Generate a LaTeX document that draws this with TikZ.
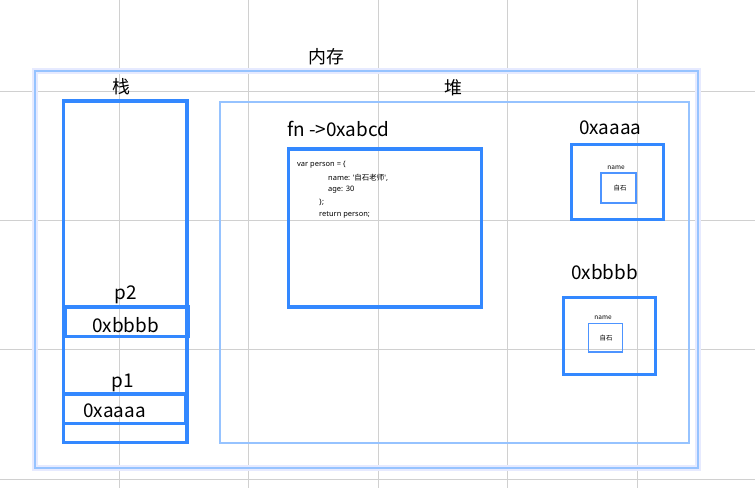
\documentclass[tikz,border=0pt]{standalone}
\usepackage{fontspec}
\setmainfont{Noto Sans CJK SC}
\newfontfamily\latinf{Noto Sans}
\definecolor{gridgray}{RGB}{208,208,208}
\definecolor{strongblue}{RGB}{51,136,255}
\definecolor{lightblue}{RGB}{150,195,255}
\definecolor{halo}{RGB}{230,234,255}
\definecolor{innerblue}{RGB}{77,148,255}
\tikzset{
  thickbox/.style={draw=strongblue,line width=3.5bp,inner sep=0pt},
  lightbox/.style={draw=lightblue,line width=2bp,inner sep=0pt},
  smallbox/.style={draw=innerblue,line width=1.5bp,inner sep=0pt},
  biglabel/.style={font=\fontsize{19}{21}\selectfont,inner sep=0pt},
  cjklabel/.style={font=\fontsize{18}{20}\selectfont,inner sep=0pt},
  codeline/.style={font=\fontsize{7.5}{9}\selectfont,inner sep=0pt,anchor=west},
  tinylabel/.style={font=\fontsize{6.5}{8}\selectfont,inner sep=0pt},
}
\begin{document}
\begin{tikzpicture}[x=1bp,y=-1bp]
\useasboundingbox (0,0) rectangle (755,488);
\fill[white] (0,0) rectangle (755,488);
% grid
\foreach \gx in {119,248,378,507,637} \draw[gridgray,line width=0.8bp] (\gx,0) -- (\gx,488);
\foreach \gy in {91,220,349,479} \draw[gridgray,line width=0.8bp] (0,\gy) -- (755,\gy);
% memory outer box
\draw[halo,line width=6bp] (35,71.5) rectangle (698,467.5);
\node[lightbox,minimum width=663bp,minimum height=396bp] (mem) at (366.5,269.5) {};
\node[cjklabel] (memlabel) at (326,57) {内存};
% stack
\node[thickbox,minimum width=123.5bp,minimum height=341.5bp] (stack) at (125.25,271.75) {};
\node[cjklabel] (stacklabel) at (121,87) {栈};
\node[thickbox,minimum width=123bp,minimum height=29.5bp] (cellb) at (127,321.75) {};
\node[thickbox,minimum width=122.5bp,minimum height=29.5bp] (cella) at (124.75,408.75) {};
\node[biglabel,anchor=base] (p2) at (126,300) {p2};
\node[biglabel,anchor=base] (vb) at (125.5,332) {0xbbbb};
\node[biglabel,anchor=base] (p1) at (123,387) {p1};
\node[biglabel,anchor=base] (va) at (114.5,417) {0xaaaa};
% heap
\node[lightbox,minimum width=468.5bp,minimum height=341bp] (heap) at (454.25,272.5) {};
\node[cjklabel] (heaplabel) at (453,88) {堆};
% function box
\node[biglabel,anchor=base west] (fnlabel) at (287,137) {fn ->0xabcd};
\node[thickbox,minimum width=193bp,minimum height=158bp] (fnbox) at (385,228) {};
\node[codeline] (c1) at (297,165) {\latinf var person = \{};
\node[codeline] (c2) at (328,177.5) {{\latinf name: '}自石老师{\latinf ',}};
\node[codeline] (c3) at (328,190) {\latinf age: 30};
\node[codeline] (c4) at (319,202.5) {\latinf \};};
\node[codeline] (c5) at (319,215) {\latinf return person;};
% object a
\node[biglabel,anchor=base west] (alabel) at (579,135) {0xaaaa};
\node[thickbox,minimum width=92bp,minimum height=75bp] (objA) at (617.5,182) {};
\node[smallbox,minimum width=35bp,minimum height=30bp] (innerA) at (618.5,188) {};
\node[tinylabel] (nameA) at (616,168) {name};
\node[tinylabel] (valA) at (620,188) {自石};
% object b
\node[biglabel,anchor=base west] (blabel) at (571,280) {0xbbbb};
\node[thickbox,minimum width=92bp,minimum height=77bp] (objB) at (609.5,336) {};
\node[smallbox,minimum width=34bp,minimum height=28.5bp] (innerB) at (605.5,337.75) {};
\node[tinylabel] (nameB) at (603,318) {name};
\node[tinylabel] (valB) at (606,338) {自石};
\end{tikzpicture}
\end{document}
